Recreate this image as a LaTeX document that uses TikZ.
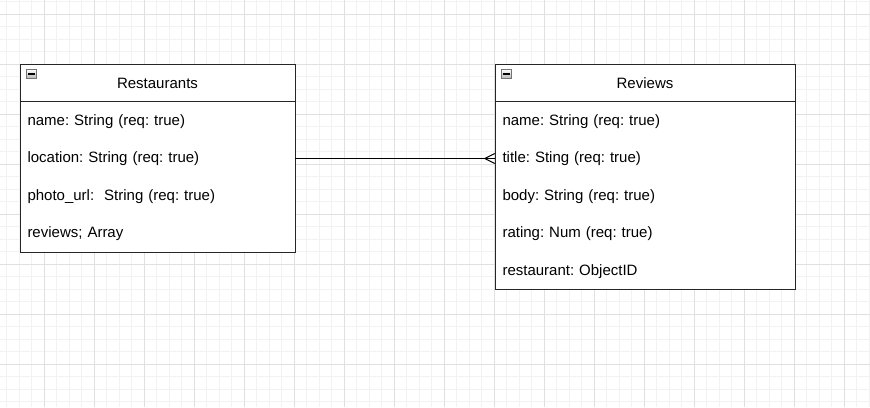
\documentclass[tikz,border=0pt]{standalone}
\usepackage{fontspec}
\setmainfont{Liberation Sans}
\frenchspacing
\begin{document}
\begin{tikzpicture}[x=0.75pt,y=-0.75pt,
  minorgrid/.style={draw=black!5, line width=0.75pt},
  majorgrid/.style={draw=black!12, line width=0.75pt},
  tablebox/.style={draw=black!85, fill=white, line width=0.75pt, rectangle, inner sep=0pt, anchor=north west},
  titletext/.style={font=\fontsize{11.25}{13.5}\selectfont, inner sep=0pt},
  rowtext/.style={font=\fontsize{11.25}{13.5}\selectfont, rectangle, inner xsep=5.625pt, inner ysep=0pt, align=left},
  rrow/.style={rowtext, text width=195pt},
  vrow/.style={rowtext, text width=213.75pt},
  icon/.style={rectangle, draw=black!55, top color=white, bottom color=black!30, minimum width=7.5pt, minimum height=7pt, inner sep=0pt},
  link/.style={draw=black, line width=0.8pt}
]
\useasboundingbox (0,0) rectangle (870,407);
\fill[white] (0,0) rectangle (870,407);
% grid
\foreach \i in {0,...,69} {\draw[minorgrid] (6.8+12.5*\i,0) -- (6.8+12.5*\i,407);}
\foreach \i in {0,...,32} {\draw[minorgrid] (0,1.8+12.5*\i) -- (870,1.8+12.5*\i);}
\foreach \i in {0,...,16} {\draw[majorgrid] (44.3+50*\i,0) -- (44.3+50*\i,407);}
\foreach \i in {0,...,7} {\draw[majorgrid] (0,14.3+50*\i) -- (870,14.3+50*\i);}

% Restaurants table
\node[tablebox, minimum width=206.25pt, minimum height=140.625pt] (rbox) at (20,64) {};
\draw[line width=0.75pt, draw=black!85] ([yshift=-28.125pt]rbox.north west) -- ([yshift=-28.125pt]rbox.north east);
\node[titletext] (rtitle) at (157.5,83.5) {Restaurants};
\node[icon] (ricon) at (31.5,74) {};
\draw[line width=1.1pt] ([xshift=1.4pt]ricon.west) -- ([xshift=-1.4pt]ricon.east);
\node[rrow] (rname) at (157.5,121.5) {name: String (req: true)};
\node[rrow] (rloc) at (157.5,158.5) {location: String (req: true)};
\node[rrow] (rphoto) at (157.5,196.5) {photo\_url:\ \ String (req: true)};
\node[rrow] (rrev) at (157.5,233.5) {reviews; Array};

% Reviews table
\node[tablebox, minimum width=225pt, minimum height=168.75pt] (vbox) at (495,64) {};
\draw[line width=0.75pt, draw=black!85] ([yshift=-28.125pt]vbox.north west) -- ([yshift=-28.125pt]vbox.north east);
\node[titletext] (vtitlehead) at (645,83.5) {Reviews};
\node[icon] (vicon) at (506.5,74) {};
\draw[line width=1.1pt] ([xshift=1.4pt]vicon.west) -- ([xshift=-1.4pt]vicon.east);
\node[vrow] (vname) at (645,121.5) {name: String (req: true)};
\node[vrow] (vtitle) at (645,158.5) {title: Sting (req: true)};
\node[vrow] (vbody) at (645,196.5) {body: String (req: true)};
\node[vrow] (vrating) at (645,233.5) {rating: Num (req: true)};
\node[vrow] (vrest) at (645,271.5) {restaurant: ObjectID};

% connector with crow's foot
\draw[link] (rloc.east) -- (vtitle.west);
\draw[link] ([yshift=3.75pt]vtitle.west) -- ([xshift=-7.5pt]vtitle.west) -- ([yshift=-3.75pt]vtitle.west);
\end{tikzpicture}
\end{document}
